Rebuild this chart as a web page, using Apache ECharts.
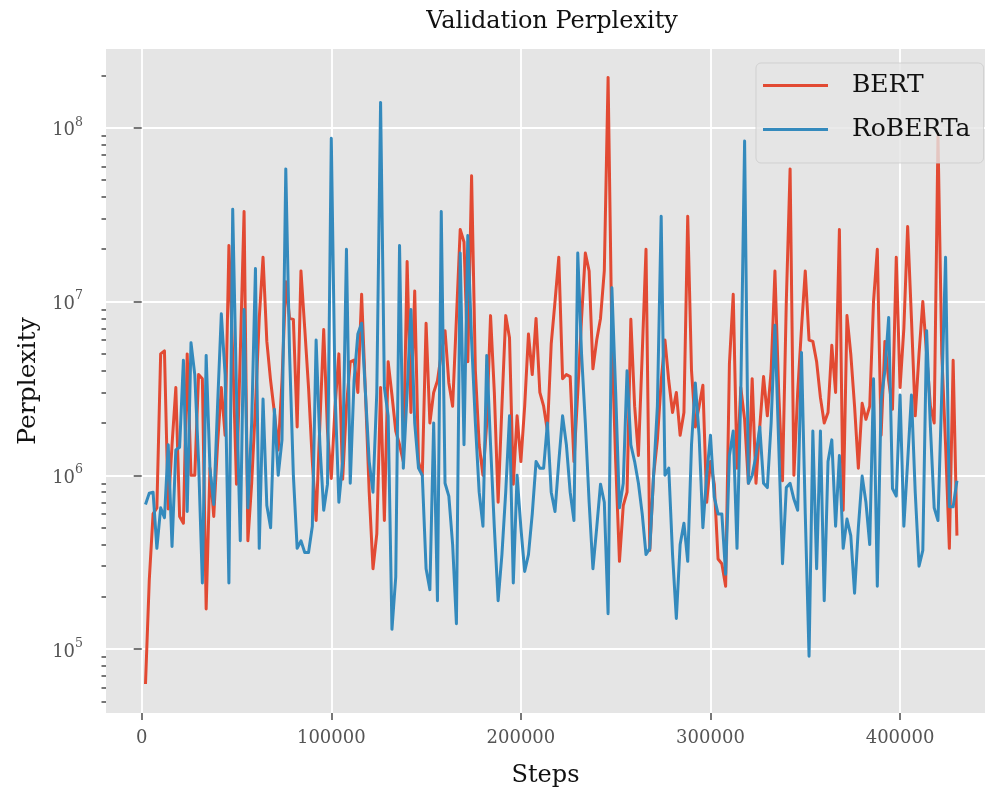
<!DOCTYPE html>
<html>
<head>
<meta charset="utf-8">
<script src="https://cdn.jsdelivr.net/npm/echarts/dist/echarts.min.js"></script>
<style>
html,body{margin:0;padding:0;background:#ffffff;}
#chart{width:985px;height:793px;}
</style>
</head>
<body>
<div id="chart"></div>
<script>
// ---- data ----
const evalEvery = 2000;           // validation every 2000 steps
const seriesNames = ['BERT', 'RoBERTa'];
const bert = [
  6.3e4, 2.5e5, 6.0e5, 6.5e5, 5.0e6, 5.2e6, 6.4e5, 1.5e6, 3.2e6, 5.8e5,
  5.3e5, 5.0e6, 1.0e6, 1.0e6, 3.8e6, 3.6e6, 1.7e5, 1.1e6, 5.8e5, 1.5e6,
  3.2e6, 1.7e6, 2.1e7, 5.0e6, 8.9e5, 5.0e6, 3.3e7, 4.2e5, 9.0e5, 2.5e6,
  8.0e6, 1.8e7, 5.9e6, 3.5e6, 2.3e6, 1.4e6, 3.5e6, 1.3e7, 8.0e6, 7.9e6,
  1.9e6, 1.5e7, 7.0e6, 3.2e6, 1.2e6, 5.5e5, 2.0e6, 6.9e6, 1.8e6, 9.6e5,
  2.5e6, 5.0e6, 9.5e5, 2.5e6, 4.5e6, 4.6e6, 3.0e6, 1.1e7, 3.0e6, 8.0e5,
  2.9e5, 4.6e5, 3.2e6, 5.5e5, 4.5e6, 2.9e6, 1.8e6, 1.5e6, 1.2e6, 1.7e7,
  2.3e6, 1.15e7, 1.2e6, 1.0e6, 7.5e6, 2.0e6, 3.0e6, 3.5e6, 5.0e6, 6.8e6,
  3.4e6, 2.5e6, 8.0e6, 2.6e7, 2.2e7, 4.5e6, 5.3e7, 4.0e6, 1.5e6, 1.0e6,
  2.0e6, 8.3e6, 3.0e6, 7.0e5, 2.5e6, 8.3e6, 6.2e6, 8.9e5, 2.2e6, 1.2e6,
  2.5e6, 6.5e6, 3.8e6, 8.0e6, 3.0e6, 2.5e6, 1.8e6, 5.7e6, 1.0e7, 1.8e7,
  3.6e6, 3.8e6, 3.7e6, 1.2e6, 3.0e6, 8.0e6, 1.9e7, 1.5e7, 4.1e6, 6.0e6,
  8.0e6, 1.5e7, 1.95e8, 6.0e6, 1.2e6, 3.2e5, 6.7e5, 8.0e5, 7.9e6, 2.5e6,
  1.3e6, 5.0e6, 2.0e7, 3.7e5, 1.0e6, 1.6e6, 3.5e6, 6.0e6, 3.5e6, 2.3e6,
  3.0e6, 1.7e6, 2.3e6, 3.1e7, 4.0e6, 1.9e6, 2.5e6, 3.3e6, 7.0e5, 1.2e6,
  8.9e5, 3.3e5, 3.1e5, 2.3e5, 4.4e6, 1.1e7, 1.1e6, 3.2e6, 2.1e6, 9.0e5,
  3.6e6, 9.0e5, 1.9e6, 3.7e6, 2.2e6, 4.0e6, 1.5e7, 3.0e6, 9.3e5, 1.0e7,
  5.8e7, 1.0e6, 3.0e6, 7.0e6, 1.5e7, 6.0e6, 5.9e6, 4.5e6, 2.8e6, 2.0e6,
  2.3e6, 5.6e6, 3.0e6, 2.6e7, 6.3e5, 8.3e6, 5.0e6, 2.5e6, 1.1e6, 2.6e6,
  2.1e6, 2.5e6, 1.0e7, 2.0e7, 1.7e6, 5.9e6, 3.5e6, 2.4e6, 1.8e7, 3.2e6,
  7.0e6, 2.7e7, 8.0e6, 2.2e6, 5.0e6, 1.0e7, 5.0e6, 2.5e6, 2.0e6, 9.0e7,
  5.0e6, 1.5e6, 3.8e5, 4.6e6, 4.5e5
];
const roberta = [
  6.8e5, 7.9e5, 8.0e5, 3.8e5, 6.5e5, 5.7e5, 1.5e6, 3.9e5, 1.4e6, 1.45e6,
  4.6e6, 6.2e5, 5.8e6, 3.8e6, 1.2e6, 2.4e5, 4.9e6, 1.1e6, 6.8e5, 2.5e6,
  8.5e6, 3.8e6, 2.4e5, 3.4e7, 3.0e6, 4.2e5, 9.0e6, 6.5e5, 2.0e6, 1.55e7,
  3.8e5, 2.75e6, 6.7e5, 5.0e5, 2.4e6, 1.0e6, 1.6e6, 5.8e7, 5.0e6, 1.0e6,
  3.8e5, 4.2e5, 3.6e5, 3.6e5, 5.1e5, 6.0e6, 1.5e6, 6.3e5, 8.9e5, 8.7e7,
  3.0e6, 7.0e5, 1.2e6, 2.0e7, 9.0e5, 3.5e6, 6.5e6, 7.5e6, 3.0e6, 1.2e6,
  8.0e5, 3.0e6, 1.4e8, 3.2e6, 2.2e6, 1.3e5, 2.6e5, 2.1e7, 1.1e6, 3.0e6,
  9.0e6, 2.0e6, 1.1e6, 1.0e6, 2.9e5, 2.2e5, 2.0e6, 1.9e5, 3.3e7, 9.0e5,
  7.6e5, 4.0e5, 1.4e5, 1.9e7, 1.5e6, 2.4e7, 6.0e6, 2.0e6, 8.0e5, 5.1e5,
  4.9e6, 1.5e6, 5.0e5, 1.9e5, 3.5e5, 8.0e5, 2.2e6, 2.4e5, 1.0e6, 5.0e5,
  2.8e5, 3.5e5, 6.0e5, 1.2e6, 1.1e6, 1.1e6, 2.0e6, 8.0e5, 6.2e5, 1.2e6,
  2.2e6, 1.5e6, 8.0e5, 5.5e5, 1.9e7, 5.0e6, 2.0e6, 7.0e5, 2.9e5, 5.0e5,
  8.9e5, 7.0e5, 1.6e5, 1.2e7, 3.0e6, 6.5e5, 9.0e5, 4.0e6, 1.5e6, 1.2e6,
  9.0e5, 6.0e5, 3.5e5, 3.8e5, 1.0e6, 2.5e6, 3.1e7, 1.0e6, 1.1e6, 3.5e5,
  1.5e5, 4.0e5, 5.3e5, 3.2e5, 1.5e6, 3.4e6, 1.7e6, 5.0e5, 1.0e6, 1.7e6,
  7.5e5, 6.0e5, 6.0e5, 2.7e5, 1.3e6, 1.8e6, 3.8e5, 3.0e6, 8.4e7, 9.0e5,
  1.0e6, 1.3e6, 1.9e6, 9.0e5, 8.5e5, 2.0e6, 7.3e6, 1.5e6, 3.1e5, 8.5e5,
  9.0e5, 7.3e5, 6.3e5, 5.1e6, 6.0e5, 9.1e4, 1.8e6, 2.9e5, 1.8e6, 1.9e5,
  1.2e6, 1.6e6, 5.1e5, 1.3e6, 3.8e5, 5.6e5, 4.5e5, 2.1e5, 5.0e5, 9.9e5,
  7.0e5, 4.0e5, 3.6e6, 2.3e5, 2.7e6, 4.0e6, 8.1e6, 8.4e5, 7.6e5, 2.9e6,
  5.1e5, 1.2e6, 2.9e6, 8.0e5, 3.0e5, 3.7e5, 6.8e6, 1.9e6, 6.5e5, 5.5e5,
  3.0e6, 1.8e7, 6.6e5, 6.6e5, 9.3e5
];
const steps = bert.map((_, i) => (i + 1) * evalEvery);
const xTickValues = [0, 100000, 200000, 300000, 400000];
const yMajorTicks = [1e5, 1e6, 1e7, 1e8];
const yMinorTicks = [];
[1e4, 1e5, 1e6, 1e7, 1e8].forEach(d => { for (let m = 2; m <= 9; m++) yMinorTicks.push(m * d); });

// ---- chart ----
const FONT = 'DejaVu Serif';
const TICK_COLOR = '#555555';
const chart = echarts.init(document.getElementById('chart'), null, {renderer: 'canvas'});

const tickLine = {color: TICK_COLOR, width: 1.6};

const option = {
  animation: false,
  backgroundColor: '#ffffff',
  graphic: [{
    type: 'text', x: 552, y: 22, z: 10,
    style: {text: 'Validation Perplexity', fontFamily: FONT, fontSize: 24, fill: '#111111',
            align: 'center', verticalAlign: 'middle'}
  }],
  grid: {left: 106, top: 49, right: 0, bottom: 80, show: true,
         backgroundColor: '#E5E5E5', borderWidth: 0},
  legend: {
    data: seriesNames, left: 756, top: 63, orient: 'vertical',
    icon: 'rect', itemWidth: 65, itemHeight: 3, itemGap: 19,
    padding: [10, 13, 21, 7],
    backgroundColor: 'rgba(229,229,229,0.8)', borderColor: 'rgba(204,204,204,0.8)',
    borderWidth: 1, borderRadius: 5,
    textStyle: {fontFamily: FONT, fontSize: 25, color: '#111111', lineHeight: 24, padding: [0, 0, 0, 19]}
  },
  xAxis: {
    type: 'value', min: -18830, max: 444800,
    name: 'Steps', nameLocation: 'middle', nameGap: 51,
    nameTextStyle: {fontFamily: FONT, fontSize: 24, color: '#111111'},
    axisLine: {show: false},
    axisTick: {show: true, customValues: xTickValues, length: 7, lineStyle: tickLine},
    axisLabel: {customValues: xTickValues, formatter: v => String(v), fontFamily: FONT,
                fontSize: 18, color: TICK_COLOR, margin: 16},
    splitLine: {show: true, lineStyle: {color: '#ffffff', width: 1.8}}
  },
  yAxis: [{
    type: 'log', logBase: 10, min: 4.29e4, max: 2.84e8, position: 'left',
    name: 'Perplexity', nameLocation: 'middle', nameGap: 61, nameRotate: 90,
    nameTextStyle: {fontFamily: FONT, fontSize: 25, color: '#111111'},
    axisLine: {show: false},
    axisTick: {show: true, customValues: yMajorTicks, length: 8, lineStyle: tickLine},
    axisLabel: {
      customValues: yMajorTicks, margin: 23,
      formatter: v => '{b|10}{s|' + Math.round(Math.log10(v)) + '}',
      rich: {
        b: {fontFamily: FONT, fontSize: 18, color: TICK_COLOR, lineHeight: 24, verticalAlign: 'bottom'},
        s: {fontFamily: FONT, fontSize: 12.5, color: TICK_COLOR, lineHeight: 14, verticalAlign: 'top'}
      }
    },
    splitLine: {show: true, lineStyle: {color: '#ffffff', width: 1.8}}
  }, {
    type: 'log', logBase: 10, min: 4.29e4, max: 2.84e8, position: 'left',
    axisLine: {show: false},
    axisTick: {show: true, customValues: yMinorTicks, length: 4.5, lineStyle: tickLine},
    axisLabel: {show: false},
    splitLine: {show: false}
  }],
  series: [{
    name: seriesNames[0], type: 'line', yAxisIndex: 0,
    data: bert.map((v, i) => [steps[i], v]),
    showSymbol: false, symbol: 'none', z: 2,
    lineStyle: {color: '#E24A33', width: 3, join: 'round'},
    itemStyle: {color: '#E24A33'}
  }, {
    name: seriesNames[1], type: 'line', yAxisIndex: 0,
    data: roberta.map((v, i) => [steps[i], v]),
    showSymbol: false, symbol: 'none', z: 3,
    lineStyle: {color: '#348ABD', width: 3, join: 'round'},
    itemStyle: {color: '#348ABD'}
  }]
};
chart.setOption(option);
</script>
</body>
</html>
